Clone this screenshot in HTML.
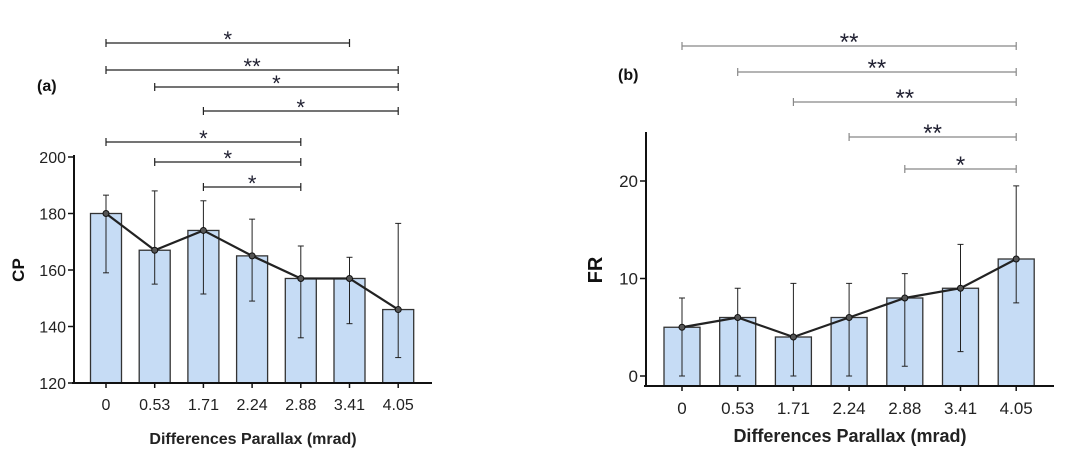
<!DOCTYPE html>
<html><head><meta charset="utf-8"><style>
body{margin:0;background:#fff;}
svg text{font-family:"Liberation Sans",Arial,sans-serif;}
</style></head><body>
<svg width="1080" height="461" viewBox="0 0 1080 461" xmlns="http://www.w3.org/2000/svg">
<g id="L"></g>
<g id="R"></g>
</svg>
<script>
const cats=["0","0.53","1.71","2.24","2.88","3.41","4.05"];
const cpVals=[180,167,174,165,157,157,146];
const cpLo=[159,155,151.5,149,136,141,129];
const cpHi=[186.5,188,184.5,178,168.5,164.5,176.5];
const cpTicks=[120,140,160,180,200];
const frVals=[5,6,4,6,8,9,12];
const frLo=[0,0,0,0,1,2.5,7.5];
const frHi=[8,9,9.5,9.5,10.5,13.5,19.5];
const frTicks=[0,10,20];
const cpSig=[[0,5,"*"],[0,6,"**"],[1,6,"*"],[2,6,"*"],[0,4,"*"],[1,4,"*"],[2,4,"*"]];
const frSig=[[0,6,"**"],[1,6,"**"],[2,6,"**"],[3,6,"**"],[4,6,"*"]];
const NS="http://www.w3.org/2000/svg";
function mk(p,t,a,name){const e=document.createElementNS(NS,t);for(const k in a)e.setAttribute(k,a[k]);


p.appendChild(e);return e;}
function draw(g,o){
 const y=v=>o.y0+(v-o.vmin)*(o.y1-o.y0)/(o.vmax-o.vmin);
 const x=i=>o.x0+i*o.dx;
 o.vals.forEach((v,i)=>mk(g,'rect',{x:x(i)-o.bw/2,y:y(v),width:o.bw,height:o.axisY-y(v),fill:'#c6dcf5',stroke:'#333','stroke-width':1.3},'bar-'+cats[i]));
 o.vals.forEach((v,i)=>{mk(g,'line',{x1:x(i),x2:x(i),y1:y(o.lo[i]),y2:y(o.hi[i]),stroke:'#222','stroke-width':1},'error-bar');
  [o.lo[i],o.hi[i]].forEach(w=>mk(g,'line',{x1:x(i)-3,x2:x(i)+3,y1:y(w),y2:y(w),stroke:'#222','stroke-width':1},'error-cap'));});
 mk(g,'polyline',{points:o.vals.map((v,i)=>x(i)+','+y(v)).join(' '),fill:'none',stroke:'#222','stroke-width':2.2},'trend-line');
 o.vals.forEach((v,i)=>mk(g,'circle',{cx:x(i),cy:y(v),r:3,fill:'#555',stroke:'#111','stroke-width':1},'point'));
 mk(g,'line',{x1:o.ax,x2:o.ax,y1:o.axTop,y2:o.axisY,stroke:'#111','stroke-width':2},'y-axis');
 mk(g,'line',{x1:o.ax-2,x2:o.axEnd,y1:o.axisY,y2:o.axisY,stroke:'#111','stroke-width':2},'x-axis');
 o.ticks.forEach(t=>{mk(g,'line',{x1:o.ax-6,x2:o.ax,y1:y(t),y2:y(t),stroke:'#111','stroke-width':1.5},'y-tick');
  const tx=mk(g,'text',{x:o.ax-8,y:y(t)+6,'text-anchor':'end','font-size':o.lfs,fill:'#222'},'y-tick-label');tx.textContent=t;});
 cats.forEach((c,i)=>{mk(g,'line',{x1:x(i),x2:x(i),y1:o.axisY,y2:o.axisY+5,stroke:'#111','stroke-width':1.5},'x-tick');
  const tx=mk(g,'text',{x:x(i),y:o.tickY,'text-anchor':'middle','font-size':o.lfs,fill:'#222'},'x-tick-label');tx.textContent=c;});
 let t=mk(g,'text',{x:o.titleX,y:o.titleY,'text-anchor':'middle','font-size':o.tfs,'font-weight':'bold',fill:'#222'},'x-axis-title');t.textContent='Differences Parallax (mrad)';
 t=mk(g,'text',{x:o.ylx,y:o.yly,'text-anchor':'middle','font-size':o.yfs,'font-weight':'bold',fill:'#111',transform:`rotate(-90 ${o.ylx} ${o.yly})`},'y-axis-title');t.textContent=o.yl;
 o.sig.forEach((s,k)=>{const yy=o.sigY[k],a=x(s[0]),b=x(s[1]);
  mk(g,'line',{x1:a,x2:b,y1:yy,y2:yy,stroke:o.sc,'stroke-width':1.2},'significance-bracket');
  [a,b].forEach(z=>mk(g,'line',{x1:z,x2:z,y1:yy-4,y2:yy+4,stroke:o.sc,'stroke-width':1.2},'bracket-end'));
  const st=mk(g,'text',{x:(a+b)/2,y:yy+o.sdy,'text-anchor':'middle','font-size':o.sfs,fill:'#223'},'significance-star');st.textContent=s[2];});
 t=mk(g,'text',{x:o.px,y:o.py,'font-size':16,'font-weight':'bold',fill:'#111'},'panel-label');t.textContent=o.pl;
}
draw(document.getElementById('L'),{vals:cpVals,lo:cpLo,hi:cpHi,ticks:cpTicks,vmin:120,vmax:200,y0:383,y1:157,x0:106,dx:48.7,bw:31,axisY:383,ax:74,axTop:155,axEnd:432,tickY:410,lfs:16,titleX:253,titleY:444,tfs:16,ylx:24,yly:270,yfs:17,yl:'CP',sig:cpSig,sigY:[43,70,87,111,142,162,187],sc:'#222',sfs:22,sdy:4,px:37,py:91,pl:'(a)'});
draw(document.getElementById('R'),{vals:frVals,lo:frLo,hi:frHi,ticks:frTicks,vmin:0,vmax:20,y0:376,y1:181,x0:682,dx:55.7,bw:36,axisY:386,ax:646,axTop:132,axEnd:1054,tickY:414,lfs:17,titleX:850,titleY:442,tfs:18,ylx:602,yly:270,yfs:20,yl:'FR',sig:frSig,sigY:[46,72,102,137,169],sc:'#888',sfs:24,sdy:4,px:618,py:80,pl:'(b)'});
</script>
</body></html>
